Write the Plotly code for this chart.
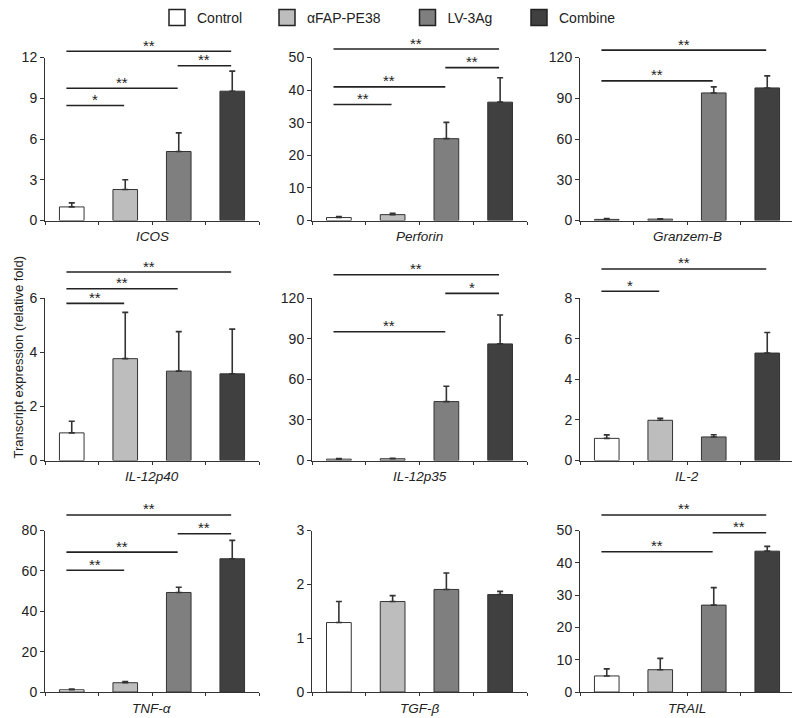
import plotly.graph_objects as go

# ---------------- data ----------------
groups = ["Control", "αFAP-PE38", "LV-3Ag", "Combine"]
group_colors = ["#ffffff", "#bdbdbd", "#7f7f7f", "#404040"]

genes = ["ICOS", "Perforin", "Granzem-B", "IL-12p40", "IL-12p35", "IL-2",
         "TNF-α", "TGF-β", "TRAIL"]

icos_mean = [1.0, 2.28, 5.08, 9.52]
icos_err = [0.3, 0.72, 1.37, 1.48]
perforin_mean = [0.9, 1.8, 25.1, 36.3]
perforin_err = [0.3, 0.4, 5.0, 7.5]
granzem_mean = [0.8, 1.0, 93.9, 97.6]
granzem_err = [0.6, 0.3, 4.5, 8.9]
il12p40_mean = [1.02, 3.76, 3.30, 3.20]
il12p40_err = [0.43, 1.71, 1.46, 1.65]
il12p35_mean = [1.0, 1.3, 43.5, 86.1]
il12p35_err = [0.4, 0.4, 11.3, 21.3]
il2_mean = [1.09, 1.98, 1.16, 5.29]
il2_err = [0.17, 0.10, 0.11, 1.01]
tnf_mean = [1.1, 4.6, 49.3, 66.0]
tnf_err = [0.3, 0.6, 2.6, 9.1]
tgf_mean = [1.29, 1.68, 1.905, 1.81]
tgf_err = [0.39, 0.11, 0.305, 0.06]
trail_mean = [4.97, 6.9, 26.9, 43.6]
trail_err = [2.2, 3.5, 5.4, 1.5]

means = [icos_mean, perforin_mean, granzem_mean, il12p40_mean, il12p35_mean,
         il2_mean, tnf_mean, tgf_mean, trail_mean]
errs = [icos_err, perforin_err, granzem_err, il12p40_err, il12p35_err,
        il2_err, tnf_err, tgf_err, trail_err]

y_max = [12, 50, 120, 6, 120, 8, 80, 3, 50]
y_step = [3, 10, 30, 2, 30, 2, 20, 1, 10]

# significance brackets: (group from, group to, height, label)
icos_sig = [(0, 3, 12.46, "**"), (2, 3, 11.39, "**"), (0, 2, 9.74, "**"), (0, 1, 8.47, "*")]
perforin_sig = [(0, 3, 52.6, "**"), (2, 3, 46.9, "**"), (0, 2, 41.0, "**"), (0, 1, 35.6, "**")]
granzem_sig = [(0, 3, 125.4, "**"), (0, 2, 102.8, "**")]
il12p40_sig = [(0, 3, 6.96, "**"), (0, 2, 6.34, "**"), (0, 1, 5.80, "**")]
il12p35_sig = [(0, 3, 137.2, "**"), (2, 3, 123.4, "*"), (0, 2, 95.1, "**")]
il2_sig = [(0, 3, 9.43, "**"), (0, 1, 8.33, "*")]
tnf_sig = [(0, 3, 87.7, "**"), (2, 3, 78.4, "**"), (0, 2, 69.3, "**"), (0, 1, 60.3, "**")]
tgf_sig = []
trail_sig = [(0, 3, 54.8, "**"), (2, 3, 49.3, "**"), (0, 2, 43.4, "**")]

sigs = [icos_sig, perforin_sig, granzem_sig, il12p40_sig, il12p35_sig,
        il2_sig, tnf_sig, tgf_sig, trail_sig]

y_title = "Transcript expression (relative fold)"

# ---------------- layout geometry ----------------
# the page body adds an 8px margin, so the figure is laid out in
# window pixels minus that offset
OFF = 8
W, H = 800 - OFF, 718 - OFF
col_px = [(45, 259), (312, 527), (580, 794)]
row_px = [(57.5, 220.5), (298, 460.5), (530.5, 692)]
legend_box_px = [177, 287, 427.5, 539]
FONT = "Liberation Sans, Arial, Helvetica, sans-serif"
INK = "#222222"


def fx(px):
    return (px - OFF) / W


def fy(py):
    return 1 - (py - OFF) / H


fig = go.Figure()
layout_axes = {}
annotations = []
shapes = []

for k in range(9):
    r, c = divmod(k, 3)
    sfx = "" if k == 0 else str(k + 1)
    xa, ya = "x" + sfx, "y" + sfx
    x0p, x1p = col_px[c]
    yt, yb = row_px[r]

    fig.add_trace(go.Bar(
        x=groups, y=means[k], xaxis=xa, yaxis=ya,
        width=0.46,
        marker=dict(color=group_colors, line=dict(color="#333333", width=1)),
        error_y=dict(type="data", array=errs[k], arrayminus=[0] * 4,
                     symmetric=False, color="#333333", thickness=1.6, width=3),
        showlegend=False, hoverinfo="skip",
    ))

    layout_axes["xaxis" + sfx] = dict(
        domain=[fx(x0p), min(1.0, fx(x1p))], anchor=ya, type="category",
        categoryorder="array", categoryarray=groups,
        range=[-0.5, 3.5], showline=True, linecolor="#333333", linewidth=1,
        ticks="outside", tickson="boundaries", ticklen=3, tickcolor="#333333",
        showticklabels=False, showgrid=False, zeroline=False, fixedrange=True,
        automargin=False,
    )
    layout_axes["yaxis" + sfx] = dict(
        domain=[fy(yb), fy(yt)], anchor=xa,
        range=[0, y_max[k]], tick0=0, dtick=y_step[k],
        showline=True, linecolor="#333333", linewidth=1,
        ticks="outside", ticklen=4, tickcolor="#333333",
        tickfont=dict(family=FONT, size=14, color=INK),
        showgrid=False, zeroline=False, fixedrange=True, automargin=False,
    )

    # gene name below the axis
    annotations.append(dict(
        text="<i>%s</i>" % genes[k], xref=xa + " domain", yref=ya + " domain",
        x=0.5, y=0, yshift=-16, showarrow=False, xanchor="center", yanchor="middle",
        font=dict(family=FONT, size=13.5, color=INK),
    ))

    # significance brackets
    for (i, j, h, lab) in sigs[k]:
        xs = i - 0.1 if i == 0 else i - 0.02
        xe = j - 0.02
        frac = h / y_max[k]
        shapes.append(dict(type="line", xref=xa, yref=ya + " domain",
                           x0=xs, x1=xe, y0=frac, y1=frac,
                           line=dict(color=INK, width=1.6)))
        annotations.append(dict(
            text=lab, xref=xa, yref=ya + " domain", x=(xs + xe) / 2, y=frac,
            yshift=6, showarrow=False, xanchor="center", yanchor="middle",
            font=dict(family=FONT, size=15, color=INK),
        ))

# legend entries, one small legend per group so each can be placed
legends = {}
for n, (g, col, bx) in enumerate(zip(groups, group_colors, legend_box_px)):
    lname = "legend" if n == 0 else "legend%d" % (n + 1)
    fig.add_trace(go.Scatter(
        x=[None], y=[None], mode="markers", name=g, legend=lname,
        marker=dict(symbol="square", size=16, color=col,
                    line=dict(color=INK, width=1.5)),
        showlegend=True,
    ))
    legends[lname] = dict(
        orientation="h", x=fx(bx - 20), xanchor="left",
        y=1 + 6 / H, yanchor="top",
        font=dict(family=FONT, size=14, color=INK),
        bgcolor="rgba(0,0,0,0)", itemclick=False, itemdoubleclick=False,
    )

annotations.append(dict(
    text=y_title, xref="paper", yref="paper", x=0, y=fy(357),
    textangle=-90, showarrow=False, xanchor="left", yanchor="middle",
    font=dict(family=FONT, size=13, color=INK),
))

fig.update_layout(
    width=W, height=H,
    margin=dict(l=0, r=0, t=0, b=0, autoexpand=False),
    paper_bgcolor="white", plot_bgcolor="white",
    font=dict(family=FONT, color=INK),
    showlegend=True,
    annotations=annotations,
    shapes=shapes,
    **legends,
    **layout_axes,
)

fig.write_html("out.html")
